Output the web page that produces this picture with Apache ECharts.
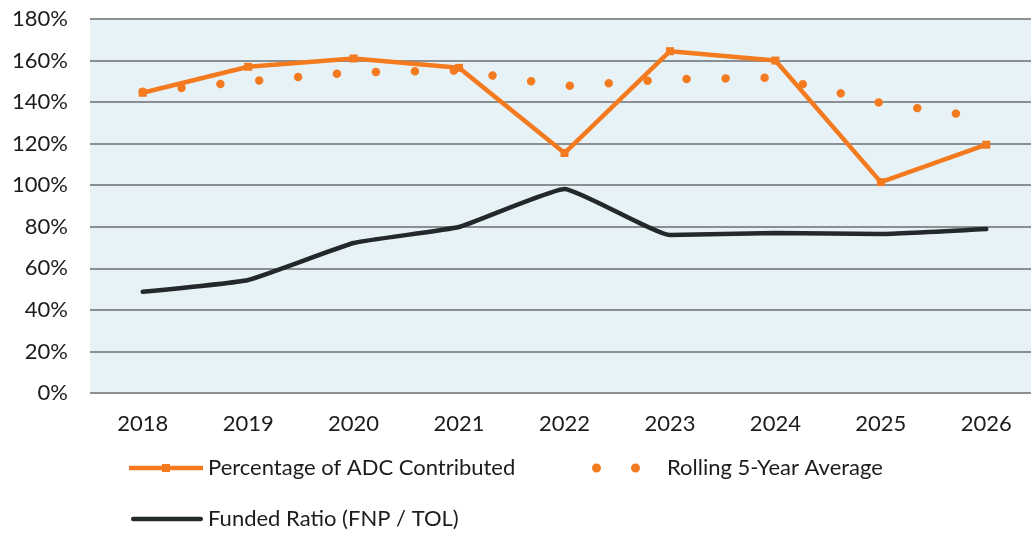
<!DOCTYPE html>
<html>
<head>
<meta charset="utf-8">
<title>ADC Contributions and Funded Ratio</title>
<script src="https://cdn.jsdelivr.net/npm/echarts@6/dist/echarts.min.js"></script>
<style>
  html, body { margin: 0; padding: 0; background: #ffffff; }
  #chart { width: 1031px; height: 534px; }
</style>
</head>
<body>
<div id="chart"></div>
<script>
// Plan years
const years = ['2018', '2019', '2020', '2021', '2022', '2023', '2024', '2025', '2026'];

// Percentage of the actuarially determined contribution actually paid (%)
const adcContributed = [144.5, 157, 161, 156.5, 115.5, 164.5, 160, 101.5, 119.5];

// Rolling five-year average of the percentage contributed (%)
const rollingAverage = [145, 150, 154.3, 155.2, 147.7, 151, 151.8, 139.6, 132.4];

// Funded ratio, fair net position over total OPEB liability (%)
const fundedRatio = [48.7, 54.4, 72.2, 79.9, 98.2, 76, 77, 76.5, 78.9];

// Value axis ticks
const yMin = 0, yMax = 180, yStep = 20;

const ORANGE = '#f47a1f';
const DARK = '#23282a';
const FONT = 'Lato, "Open Sans", sans-serif';
const TEXT = '#1c1c1c';

// Legend glyphs: line with a square marker, two dots, plain thick line
const ICON_MARKED_LINE = 'path://M0,1.75h33v-1.75h8v1.75h33v4.5h-33v1.75h-8v-1.75h-33z';
const ICON_DOTS = 'path://M0,4.5a4.5,4.5 0 1,0 9,0a4.5,4.5 0 1,0 -9,0zM39,4.5a4.5,4.5 0 1,0 9,0a4.5,4.5 0 1,0 -9,0z';
const ICON_LINE = 'path://M2.25,0h69.5a2.25,2.25 0 0,1 0,4.5h-69.5a2.25,2.25 0 0,1 0,-4.5z';

const chart = echarts.init(document.getElementById('chart'), null, { renderer: 'canvas' });

const legendText = { fontFamily: FONT, fontSize: 22, color: TEXT };
const legendBase = {
  padding: 0,
  itemStyle: { borderWidth: 0 },
  textStyle: legendText
};

chart.setOption({
  animation: false,
  grid: {
    left: 90, top: 19, width: 949, bottom: 141,
    outerBoundsMode: 'none',
    containLabel: false,
    show: true, backgroundColor: '#e7f2f6', borderWidth: 0
  },
  legend: [
    Object.assign({}, legendBase, {
      data: [{ name: 'Percentage of ADC Contributed', icon: ICON_MARKED_LINE }],
      left: 129, top: 457,
      itemWidth: 74, itemHeight: 8
    }),
    Object.assign({}, legendBase, {
      data: [{ name: 'Rolling 5-Year Average', icon: ICON_DOTS }],
      left: 592, top: 457,
      itemWidth: 48, itemHeight: 9,
      textStyle: Object.assign({}, legendText, { padding: [0, 0, 0, 22] })
    }),
    Object.assign({}, legendBase, {
      data: [{ name: 'Funded Ratio (FNP / TOL)', icon: ICON_LINE }],
      left: 131, top: 508,
      itemWidth: 72, itemHeight: 4.5
    })
  ],
  xAxis: {
    type: 'category',
    data: years,
    boundaryGap: true,
    axisLine: { show: false },
    axisTick: { show: false },
    axisLabel: { margin: 20, fontFamily: FONT, fontSize: 22, color: TEXT }
  },
  yAxis: {
    type: 'value',
    min: yMin, max: yMax, interval: yStep,
    axisLine: { show: false },
    axisTick: { show: false },
    axisLabel: {
      margin: 22, fontFamily: FONT, fontSize: 22, color: TEXT,
      formatter: '{value}%'
    },
    splitLine: { lineStyle: { color: '#6a6e70', width: 1.6 } }
  },
  series: [
    {
      name: 'Rolling 5-Year Average',
      type: 'line',
      data: rollingAverage,
      symbol: 'none',
      z: 2,
      itemStyle: { color: ORANGE },
      lineStyle: { color: ORANGE, width: 8.5, type: [0.01, 39], cap: 'round', join: 'round' }
    },
    {
      name: 'Percentage of ADC Contributed',
      type: 'line',
      data: adcContributed,
      symbol: 'rect',
      symbolSize: 8,
      z: 3,
      itemStyle: { color: ORANGE },
      lineStyle: { color: ORANGE, width: 4.5 }
    },
    {
      name: 'Funded Ratio (FNP / TOL)',
      type: 'line',
      data: fundedRatio,
      symbol: 'none',
      smooth: 0.12,
      z: 3,
      itemStyle: { color: DARK },
      lineStyle: { color: DARK, width: 4.5, cap: 'round' }
    }
  ]
});
</script>
</body>
</html>
